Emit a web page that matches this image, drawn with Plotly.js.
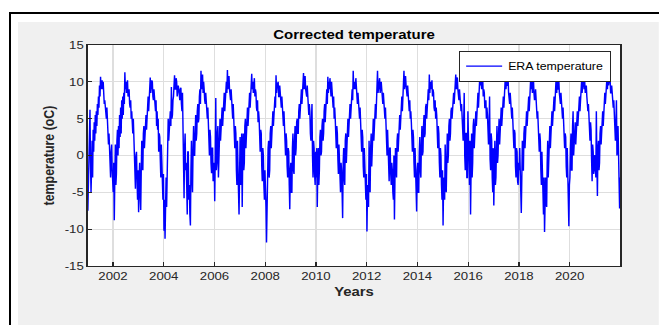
<!DOCTYPE html>
<html>
<head>
<meta charset="utf-8">
<script src="https://cdn.plot.ly/plotly-3.0.1.min.js"></script>
<style>
  html, body { margin: 0; padding: 0; background: #ffffff; width: 659px; height: 325px; overflow: hidden; }
  #frame { position: absolute; left: 9px; top: 12px; width: 660px; height: 320px; border-left: 2px solid #000; border-top: 2px solid #000; }
  #plot { position: absolute; left: 18px; top: 22px; width: 534px; height: 303px; transform: scaleX(1.2); transform-origin: 0 0; }
</style>
</head>
<body>
<div id="frame"></div>
<div id="plot"></div>
<script>
// Approximate ~weekly temperature values (oC), one array per year
const y2001 = [-7.5,-2, -5.5,1, 6.2,-1, -5,-2, 2,-3, 3.5,0.5, 4.5,2, 5.5,3, 6,4, 7,5.5, 8,6.5, 9.5,8, 10.7,9, 9.5,10.2, 9,10, 8,7, 7.5,6.5, 6,5, 6.5,4, 3.5,1.5, 3,-0.5, 1,-3, 0.5,1.5, -2,-4.5];
const y2002 = [-5,-1, -8.8,-3, 1.5,-4, -2.5,2, 3.5,0, 4,1, 5.5,2.5, 6.5,3, 7.5,5, 8,5.5, 8.5,7, 11.3,9, 10,8.5, 9.5,10.2, 8,9, 9,7, 6.5,7.5, 5,6, 4.5,3, 5,1, 2.5,-1, -4.5,0, 0.5,-3, -6,-2];
const y2003 = [-7.7,-3, -1,-5.5, -7.4,-2, 2,-1.5, -2,3, 4,1, 2,4.5, 5.5,3.5, 4.5,6.5, 8,6, 7.5,9.5, 10.6,8.5, 9,10.2, 10,8, 7.5,9, 8,6.5, 6,7.5, 4,6, 3.5,5, 0.5,3, 2.5,-0.5, -3,1.5, -1,-4.5, -6,-2.5];
const y2004 = [-10.2,-6, -11.3,-5, -3,-7, 1,-2, 5,2, 3,5.5, 6,4, 9.3,5, 5.5,7.5, 8,9.5, 10.9,9, 9,10.5, 10,8, 8.5,9.5, 9,7.5, 7.5,9, 9.2,7, 6,8.5, 2,5, -5.8,1, 3,-2, -1,-4, -8,0.5, 0.5,-6];
const y2005 = [-4,-8, -9.5,-2, 2,-3, -5,1, 4,0, 0,3, 5.5,2, 3,6, 7,4.5, 5,8, 9,7, 11.5,9, 10,11, 8.5,10, 9,7.5, 7,8.5, 7.5,5.5, 5,6.5, 4,2, 0,3.5, 2.5,-1, -2.4,1, 1,-3.5, -3,-1];
const y2006 = [-6.2,0, 7.8,-2, -1,3, 4,-3, 1,4.5, 5,2, 3.5,6, 6.5,4, 5,7.5, 8.5,6, 8,9.5, 10,8.5, 11.6,9, 10,10.8, 9,8, 7.5,9, 8,6, 5,7, 5.5,2.5, 1,4, 3,-2, -4,2, 0,-5, -8,-3];
const y2007 = [2.5,-4, -3,3, -7,0, 3,-2, -1,4, 5,1, 3,6, 6.5,4, 5,7.5, 8.5,6.5, 9,7.5, 11.1,9, 10,8.5, 9.5,10.5, 8,9, 8.5,6.5, 6,7.5, 4.5,6, 5,2, 0.5,3.5, 3,-1.5, -3.5,1, 0,-4, -6,-2];
const y2008 = [-4,-7, -11.8,-3, -2,1, 2,-3, -2,3, 4,1, 3,5.5, 6,4, 5,7.5, 8,6.5, 10.9,8.5, 9.5,10, 10,8, 8,9.5, 8.5,7, 6.5,8, 7,5, 4,6, 4.5,2, 0,3, 2,-1.5, -3,1, 0.5,-4, -7.3,-2];
const y2009 = [-1,-5, -5,1, 3,-2, -2.5,2, 4,0, 1,4.5, 5,3, 3,6, 7,5, 6,8, 9,7, 9.5,8.5, 11.2,9, 10,10.8, 9,8, 8,9.5, 7.5,6, 5.5,7, 6,3, 2,4.5, 7,0, -3,2, 1,-2.5, -4,0.5];
const y2010 = [-3,1, -7,-2, 1,-4, -2,2.5, 3.5,0, 0.5,4, 5,2, 3,6, 7,4.5, 6,8, 9,7, 10.7,8.5, 10,9, 10.5,8.5, 8,10, 8.5,7, 6.5,8, 5,6.5, 5,3, 1,4, 3,-0.5, -2.5,1.5, 0,-3.5, -5,-1];
const y2011 = [-2,-5, -8.5,-1, 1,-3, -4,2, 3,-1, 1,4, 5,2.5, 3.5,6, 7,5, 6,8.5, 9,7.5, 11.5,9, 10,9.5, 9,10.5, 8.5,7.5, 7,8.5, 7.5,5.5, 5,6.5, 4.5,2, 0.5,3.5, 2.5,-1.5, -3,1, -1,-4, -6,-2.5];
const y2012 = [-10.3,-5, -4,-7, 2,-2, -5,1, 3,-1.5, 0,4, 5,2, 3.5,6.5, 7,5, 8,7, 11.5,8.5, 10,9, 10.5,8.5, 9,10, 9,7.5, 7,8.5, 7.5,5.5, 5,6.5, 4,2, 0,3.5, 2,-1.5, -3.5,1, 1,-2.5, -4,-1];
const y2013 = [-2,-5, -6,0, -8.7,-3, 1,-2, -3,2, 3,0.5, 2,4.5, 5.5,3.5, 5,7, 8,6, 9,7.5, 11.5,9, 10,10.8, 9.5,8.5, 8,9.5, 8.5,6.5, 6,7.5, 5,6, 4.5,2.5, 0.5,3.5, 2.5,-1, -3,1, -1,-4.5, -7.6,-2];
const y2014 = [-1,-5, -5,0.5, 2.5,-2, -3,1.5, 4,0, 0.5,4, 5.5,2.5, 3,6.5, 7,5, 6,8, 9,7.5, 11,8.5, 10,9, 9.5,10.2, 8,9, 8.5,6.5, 6,7.5, 5,6.5, 5.5,2.5, 1,4, 3,-1, -3,1, 0,-4, -6,-2];
const y2015 = [-9.5,-4, -3,-6, 1.5,-2, -5,1, 3,-1, 0,4, 5,2, 3,6, 6.5,5, 6,8, 8.5,7, 9.5,8, 11,9, 10,10.6, 9,8, 7.5,9, 8,6, 6,7, 5,2.5, 2,4.5, 8.5,0, -2,3, 3,-3, -3,6];
const y2016 = [1,-4, -4,2, -8,-2, 3,-3, -1,4, 5,1, 3.5,5.5, 6,4, 5.5,7.5, 8.5,6.5, 9,8, 11.6,9.5, 10,9, 9.5,10.5, 8,9, 8.5,6.5, 6.5,7.5, 5,6.5, 5.5,2, 1.5,4, 8,-0.5, -2,3, 2,-3, -5,1];
const y2017 = [-6.8,-2, 2,-4, -3,1, 4,-1, 0,3, 5,1.5, 3,5.5, 6.5,4, 5.5,7.5, 8,6.5, 9,7.5, 11,9, 10,9.5, 9.5,10.5, 8.5,7.5, 7,8.5, 7.5,5.5, 5,6.5, 4.5,2, 1,3.5, 3,-1.5, -3,1, 0.5,-3.5, -4,-1];
const y2018 = [-2,1, -5,-1, -7.8,-3, 2,-2, -2,3, 4,1, 2.5,5, 6,4, 5,7.5, 8,6, 9,7.5, 10.8,9, 10,8.5, 9.5,10.3, 8.5,7.5, 8,9, 6.5,7.5, 5,6, 4.5,2, 0.5,3, 2,-2, -4,0.5, -1,-5, -8,-3];
const y2019 = [-10.4,-4, -3,-6, -7,-1, 2,-3, -1,3, 4,1, 3,5.5, 6,4, 5,7, 8,6, 9,7.5, 10.7,8.5, 10,9, 9,10.2, 8.5,7.5, 7,8.5, 7.5,5.5, 5,6.5, 4,2, 1,3, 2.5,-1.5, -3,1, -2,-5, -9.6,-4];
const y2020 = [-3,1, 3,-2, -2,4, 6,0, 1,3, 4.5,1.5, 3,5.5, 6,4, 5,7, 8,6, 8.5,7.5, 10,8.5, 9.5,10.5, 11,9, 10,8.5, 9,9.5, 8,6.5, 6,7, 5.5,2.5, 2,4.5, 3.5,-0.5, -3.5,1.5, 0.5,-2.5, -2,0];
const y2021 = [0,-3, 6,-1, -5.5,1, 2,-2, -1,3, 4,1.5, 3,5.5, 6,4, 5.5,7.5, 8.5,7, 9,8, 10.5,9, 11.6,9.5, 10,10.8, 10.5,8.5, 8.5,9.5, 8.5,6.5, 6.5,7.5, 5,3, 2,4.5, 7.5,0, 1,4, -1,2, -7.2,-3];

const years = [2001, 2002, 2003, 2004, 2005, 2006, 2007, 2008, 2009, 2010, 2011,
               2012, 2013, 2014, 2015, 2016, 2017, 2018, 2019, 2020, 2021];
const yearly = [y2001, y2002, y2003, y2004, y2005, y2006, y2007, y2008, y2009, y2010, y2011,
                y2012, y2013, y2014, y2015, y2016, y2017, y2018, y2019, y2020, y2021];
const xTicks = [2002, 2004, 2006, 2008, 2010, 2012, 2014, 2016, 2018, 2020];
const yTicks = [-15, -10, -5, 0, 5, 10, 15];

const xs = [], ys = [];
yearly.forEach((arr, k) => {
  const n = arr.length;
  arr.forEach((v, i) => { xs.push(years[k] + (i + 0.5) / n); ys.push(v); });
});

const fontFam = '"Liberation Sans", Arial, Helvetica, sans-serif';
const axisCol = '#262626';

const trace = {
  x: xs, y: ys, type: 'scatter', mode: 'lines', name: 'ERA temperature',
  line: { color: '#0000ff', width: 1.2 }
};

const layout = {
  width: 534, height: 303,
  margin: { l: 58, r: 32, t: 23, b: 59 },
  paper_bgcolor: '#f0f0f0',
  plot_bgcolor: '#ffffff',
  font: { family: fontFam, size: 11, color: axisCol },
  title: {
    text: 'Corrected temperature',
    font: { family: fontFam, size: 12.5, color: '#000000', weight: 'bold' },
    x: 0.5, xref: 'paper', xanchor: 'center',
    y: 1 - 13 / 303, yref: 'container', yanchor: 'middle'
  },
  xaxis: {
    range: [2001, 2022],
    tickvals: xTicks, ticktext: xTicks.map(String),
    showgrid: true, gridcolor: '#dedede', gridwidth: 1,
    zeroline: false,
    showline: true, mirror: true, linecolor: axisCol, linewidth: 1,
    ticks: 'inside', ticklen: 4, tickcolor: axisCol,
    tickfont: { family: fontFam, size: 11, color: axisCol },
    title: { text: 'Years', font: { family: fontFam, size: 12.4, color: axisCol, weight: 'bold' }, standoff: 6 }
  },
  yaxis: {
    range: [-15, 15],
    tickvals: yTicks, ticktext: yTicks.map(String),
    showgrid: true, gridcolor: '#dedede', gridwidth: 1,
    zeroline: false,
    showline: true, mirror: true, linecolor: axisCol, linewidth: 1,
    ticks: 'inside', ticklen: 4, tickcolor: axisCol,
    tickfont: { family: fontFam, size: 11, color: axisCol },
    title: { text: 'temperature (oC)', font: { family: fontFam, size: 12.4, color: axisCol, weight: 'bold' }, standoff: 5 }
  },
  showlegend: true,
  legend: {
    x: 0.983, xanchor: 'right', y: 0.975, yanchor: 'top',
    bgcolor: '#ffffff', bordercolor: axisCol, borderwidth: 1,
    font: { family: fontFam, size: 10.3, color: '#000000' },
    tracegroupgap: 0
  }
};

Plotly.newPlot('plot', [trace], layout, { displayModeBar: false, staticPlot: true });
</script>
</body>
</html>
